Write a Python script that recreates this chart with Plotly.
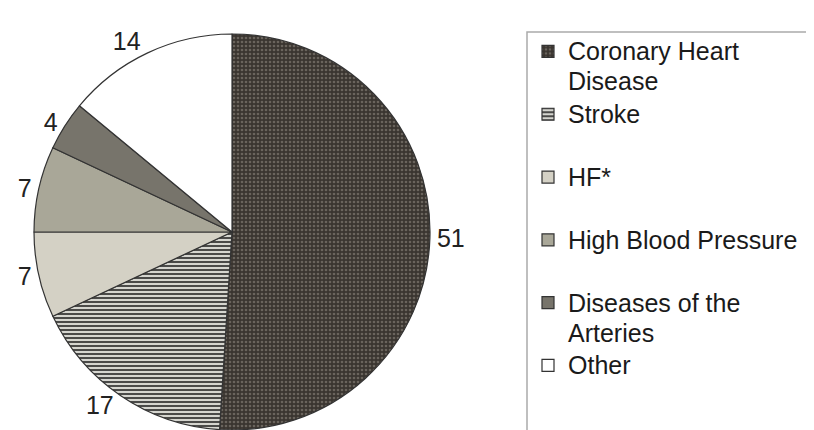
import plotly.graph_objects as go

categories = ["Coronary Heart<br>Disease", "Stroke", "HF*", "High Blood Pressure",
              "Diseases of the<br>Arteries", "Other"]
values = [51, 17, 7, 7, 4, 14]

# extra blank lines per legend entry to mimic the reference's legend spacing
legend_pad = [0, 1, 1, 1, 0, 0]


def legend_text(label, pad):
    lines = label.split("<br>")
    body = "<br>".join(f'<span style="font-size:25px">{ln}</span>' for ln in lines)
    return body + "<br> " * pad


display_labels = [legend_text(c, p) for c, p in zip(categories, legend_pad)]

colors = ["#3b3631", "#e2e1da", "#d4d1c5", "#a9a798", "#77746b", "#ffffff"]
pattern_shapes = [".", "-", "", "", "", ""]
pattern_bg = ["#3a3530", "#e4e4de", "#d4d1c5", "#a9a798", "#77746b", "#ffffff"]
pattern_fg = ["#6a645d", "#4a4a48", "#000", "#000", "#000", "#000"]
pattern_size = [4, 4, 8, 8, 8, 8]
pattern_solidity = [0.35, 0.55, 0.3, 0.3, 0.3, 0.3]

W, H = 814, 430
OFF = 8  # page body margin offset of the figure in the browser
cx, cy, r = 232 - OFF, 232 - OFF, 198
FONT = "Liberation Sans, Arial, sans-serif"

fig = go.Figure(go.Pie(
    labels=display_labels,
    values=values,
    sort=False,
    direction="clockwise",
    rotation=0,
    textinfo="value",
    textposition="outside",
    textfont=dict(family=FONT, size=25, color="#222"),
    marker=dict(
        colors=colors,
        line=dict(color="#333333", width=1.2),
        pattern=dict(shape=pattern_shapes, bgcolor=pattern_bg, fgcolor=pattern_fg,
                     size=pattern_size, solidity=pattern_solidity, fillmode="replace"),
    ),
    domain=dict(x=[(cx - r) / W, (cx + r) / W], y=[1 - (cy + r) / H, 1 - (cy - r) / H]),
    hoverinfo="value",
))

fig.update_layout(
    width=W, height=H,
    margin=dict(l=0, r=0, t=0, b=0, autoexpand=False),
    paper_bgcolor="white",
    plot_bgcolor="white",
    showlegend=True,
    legend=dict(
        x=(528 - OFF) / W, xanchor="left", y=1 - (30 - OFF) / H, yanchor="top",
        valign="top",
        font=dict(family=FONT, size=23, color="#1a1a1a"),
        bgcolor="rgba(0,0,0,0)", borderwidth=0,
        traceorder="normal",
    ),
    shapes=[dict(type="rect", xref="paper", yref="paper",
                 x0=(527 - OFF) / W, x1=1.05, y0=-0.1, y1=1 - (32 - OFF) / H,
                 line=dict(color="#aaaaaa", width=1.5), fillcolor="rgba(0,0,0,0)",
                 layer="below")],
)

fig.write_html("out.html")
